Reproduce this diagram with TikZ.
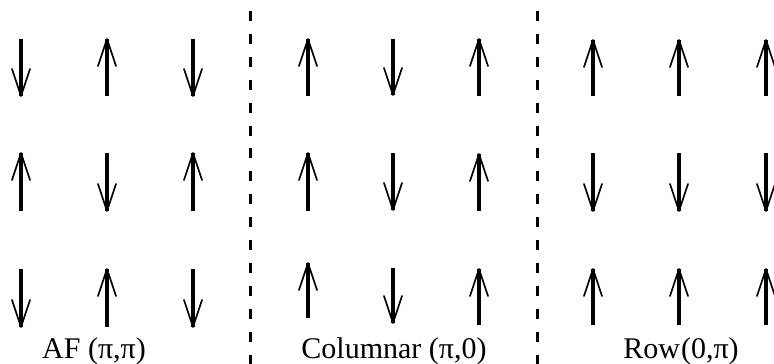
\documentclass[tikz,border=0pt]{standalone}
\usepackage{fontspec}
\setmainfont{Liberation Serif}
\tikzset{
  shaft/.style={line width=3.1pt},
  barb/.style={line width=1.7pt, line join=round, line cap=round},
  sep/.style={line width=3pt, dash pattern=on 10pt off 12.9pt},
  lbl/.style={anchor=base, inner sep=0pt, font=\fontsize{30}{34}\selectfont}
}
% up spin: x, top y, bottom y
\newcommand\uspin[3]{%
  \draw[shaft] (#1,#3) -- (#1,#2);
  \draw[barb] (#1-9,#2+27) -- (#1,#2) -- (#1+9,#2+27);}
\newcommand\dspin[3]{%
  \draw[shaft] (#1,#2) -- (#1,#3);
  \draw[barb] (#1-9,#3-27) -- (#1,#3) -- (#1+9,#3-27);}
\begin{document}
\begin{tikzpicture}[x=1pt,y=-1pt]
\useasboundingbox (0,0) rectangle (774,364);
% separators
\coordinate (s1t) at (250.5,11);
\coordinate (s1b) at (250.5,364);
\coordinate (s2t) at (537.5,11);
\coordinate (s2b) at (537.5,364);
\draw[sep] (s1t) -- (s1b);
\draw[sep] (s2t) -- (s2b);
% AF
\dspin{21}{39}{96} \uspin{107}{39}{96} \dspin{193}{39}{96}
\uspin{21}{153}{211} \dspin{107}{153}{211} \uspin{193}{153}{211}
\dspin{21}{269}{327} \uspin{107}{269}{327} \dspin{193}{269}{327}
% Columnar
\uspin{308}{39}{96} \dspin{393}{39}{95} \uspin{479}{39}{96}
\uspin{308}{153}{211} \dspin{393}{153}{210} \uspin{479}{154}{211}
\uspin{308}{263}{318} \dspin{393}{268}{323} \uspin{479}{269}{325}
% Row
\uspin{593}{40}{96} \uspin{679}{40}{96} \uspin{766}{40}{96}
\dspin{593}{153}{211} \dspin{679}{153}{211} \dspin{766}{153}{211}
\uspin{593}{269}{325} \uspin{679}{269}{325} \uspin{766}{269}{325}
% labels
\node[lbl] (af) at (94,358) {AF (π,π)};
\node[lbl] (col) at (394,358) {Columnar (π,0)};
\node[lbl] (row) at (681,358) {Row\kern1pt(0,π)};
\end{tikzpicture}
\end{document}
